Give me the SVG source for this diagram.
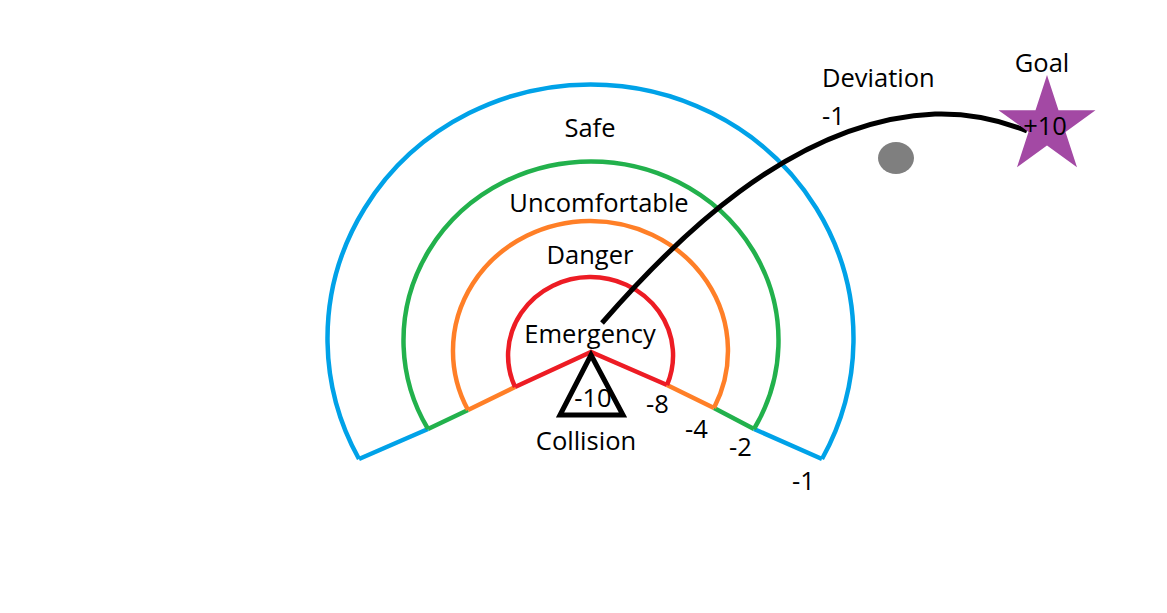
<svg xmlns="http://www.w3.org/2000/svg" width="1167" height="613" viewBox="0 0 1167 613">
<style>
.z{fill:none;stroke-width:4.5;stroke-linejoin:miter;stroke-linecap:butt}
.blue{stroke:#00A2E8}.green{stroke:#22B14C}.orange{stroke:#FF7F27}.red{stroke:#ED1C24}
text{font-family:"Open Sans","Noto Sans","Liberation Sans",sans-serif;font-size:25.5px;fill:#000}
.c{text-anchor:middle}
</style>
<rect width="1167" height="613" fill="#fff"/>
<g id="zone-safe">
<path class="z blue" d="M359,459 A263,254 0 1 1 822,459"/>
<path class="z blue" d="M359,459 L428,429 M754,429 L822,459"/>
<text class="c" x="590" y="137">Safe</text>
<text x="792" y="490">-1</text>
</g>
<g id="zone-uncomfortable">
<path class="z green" d="M428,429 A187.5,179 0 1 1 754,429"/>
<path class="z green" d="M428,429 L468,410 M714,408 L754,429"/>
<text class="c" x="599" y="212">Uncomfortable</text>
<text x="729" y="456">-2</text>
</g>
<g id="zone-danger">
<path class="z orange" d="M468,410 A137.5,130 0 1 1 714,408"/>
<path class="z orange" d="M468,410 L515,387 M667,385 L714,408"/>
<text class="c" x="590" y="264">Danger</text>
<text x="685" y="438">-4</text>
</g>
<g id="zone-emergency">
<path class="z red" d="M515,387 A82.5,78.5 0 1 1 667,385"/>
<path class="z red" d="M515,387 L591,352 L667,385"/>
<text class="c" x="590" y="343">Emergency</text>
<text x="646" y="413">-8</text>
</g>
<g id="collision">
<polygon points="591,355 560,415 623,415" fill="none" stroke="#000" stroke-width="5"/>
<text class="c" x="593" y="407">-10</text>
<text class="c" x="586" y="450">Collision</text>
</g>
<g id="obstacle">
<ellipse cx="896" cy="158" rx="18" ry="16" fill="#7F7F7F"/>
</g>
<g id="connectors">
<path d="M602,323 C670,245 790,120 935,114 C970,113 1000,120 1027,131" fill="none" stroke="#000" stroke-width="5"/>
</g>
<g id="deviation">
<text x="822" y="87">Deviation</text>
<text x="822" y="125">-1</text>
</g>
<g id="goal">
<polygon points="1047,75 1058.5,110.2 1095.5,110.2 1065.5,131.9 1077,167.3 1047,145.5 1017,167.3 1028.5,131.9 998.5,110.2 1035.5,110.2" fill="#A349A4"/>
<text class="c" x="1042" y="72">Goal</text>
<text class="c" x="1045" y="135">+10</text>
</g>
</svg>
